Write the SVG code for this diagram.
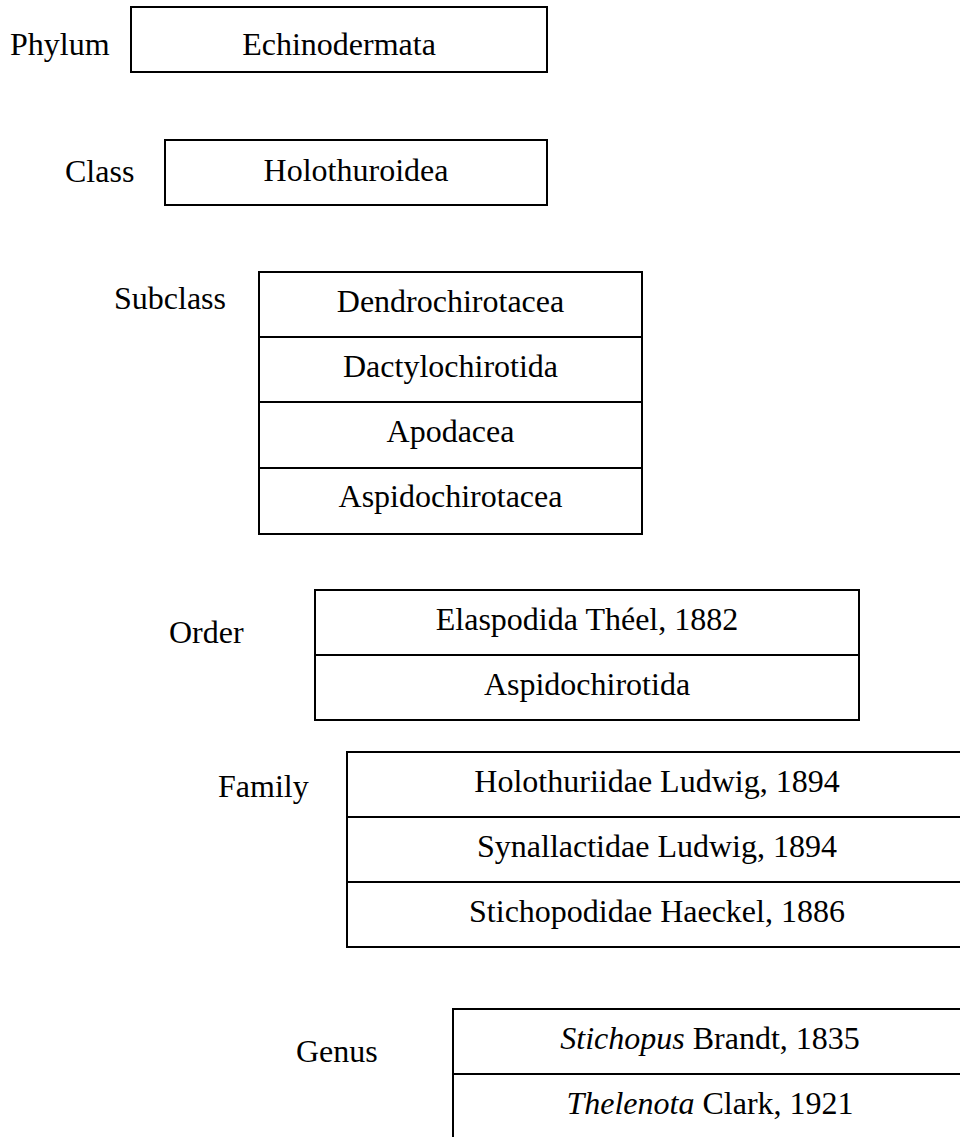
<svg xmlns="http://www.w3.org/2000/svg" width="960" height="1137" viewBox="0 0 960 1137">
  <style>
    .box { fill: #ffffff; stroke: #000000; stroke-width: 2; }
    .t { font-family: "Liberation Serif", "Times New Roman", serif; font-size: 32px; fill: #000000; }
    .c { text-anchor: middle; }
    .i { font-style: italic; }
  </style>
  <rect width="960" height="1137" fill="#ffffff"/>
  <g id="connectors"></g>

  <g id="labels">
    <text class="t" x="10" y="55">Phylum</text>
    <text class="t" x="65" y="182">Class</text>
    <text class="t" x="114" y="309">Subclass</text>
    <text class="t" x="169" y="643">Order</text>
    <text class="t" x="218" y="797">Family</text>
    <text class="t" x="296" y="1062">Genus</text>
  </g>

  <g id="phylum">
    <rect class="box" x="131" y="7" width="416" height="65"/>
    <text class="t c" x="339" y="55">Echinodermata</text>
  </g>

  <g id="class">
    <rect class="box" x="165" y="140" width="382" height="65"/>
    <text class="t c" x="356" y="181">Holothuroidea</text>
  </g>

  <g id="subclass">
    <rect class="box" x="259" y="272" width="383" height="65"/>
    <rect class="box" x="259" y="337" width="383" height="65"/>
    <rect class="box" x="259" y="402" width="383" height="66"/>
    <rect class="box" x="259" y="468" width="383" height="66"/>
    <text class="t c" x="450.5" y="312">Dendrochirotacea</text>
    <text class="t c" x="450.5" y="377">Dactylochirotida</text>
    <text class="t c" x="450.5" y="442">Apodacea</text>
    <text class="t c" x="450.5" y="507">Aspidochirotacea</text>
  </g>

  <g id="order">
    <rect class="box" x="315" y="590" width="544" height="65"/>
    <rect class="box" x="315" y="655" width="544" height="65"/>
    <text class="t c" x="587" y="630">Elaspodida Théel, 1882</text>
    <text class="t c" x="587" y="695">Aspidochirotida</text>
  </g>

  <g id="family">
    <rect class="box" x="347" y="752" width="620" height="65"/>
    <rect class="box" x="347" y="817" width="620" height="65"/>
    <rect class="box" x="347" y="882" width="620" height="65"/>
    <text class="t c" x="657" y="792">Holothuriidae Ludwig, 1894</text>
    <text class="t c" x="657" y="857">Synallactidae Ludwig, 1894</text>
    <text class="t c" x="657" y="922">Stichopodidae Haeckel, 1886</text>
  </g>

  <g id="genus">
    <rect class="box" x="453" y="1009" width="514" height="65"/>
    <rect class="box" x="453" y="1074" width="514" height="65"/>
    <text class="t c" x="710" y="1049"><tspan class="i">Stichopus</tspan> Brandt, 1835</text>
    <text class="t c" x="710" y="1114"><tspan class="i">Thelenota</tspan> Clark, 1921</text>
  </g>
</svg>
